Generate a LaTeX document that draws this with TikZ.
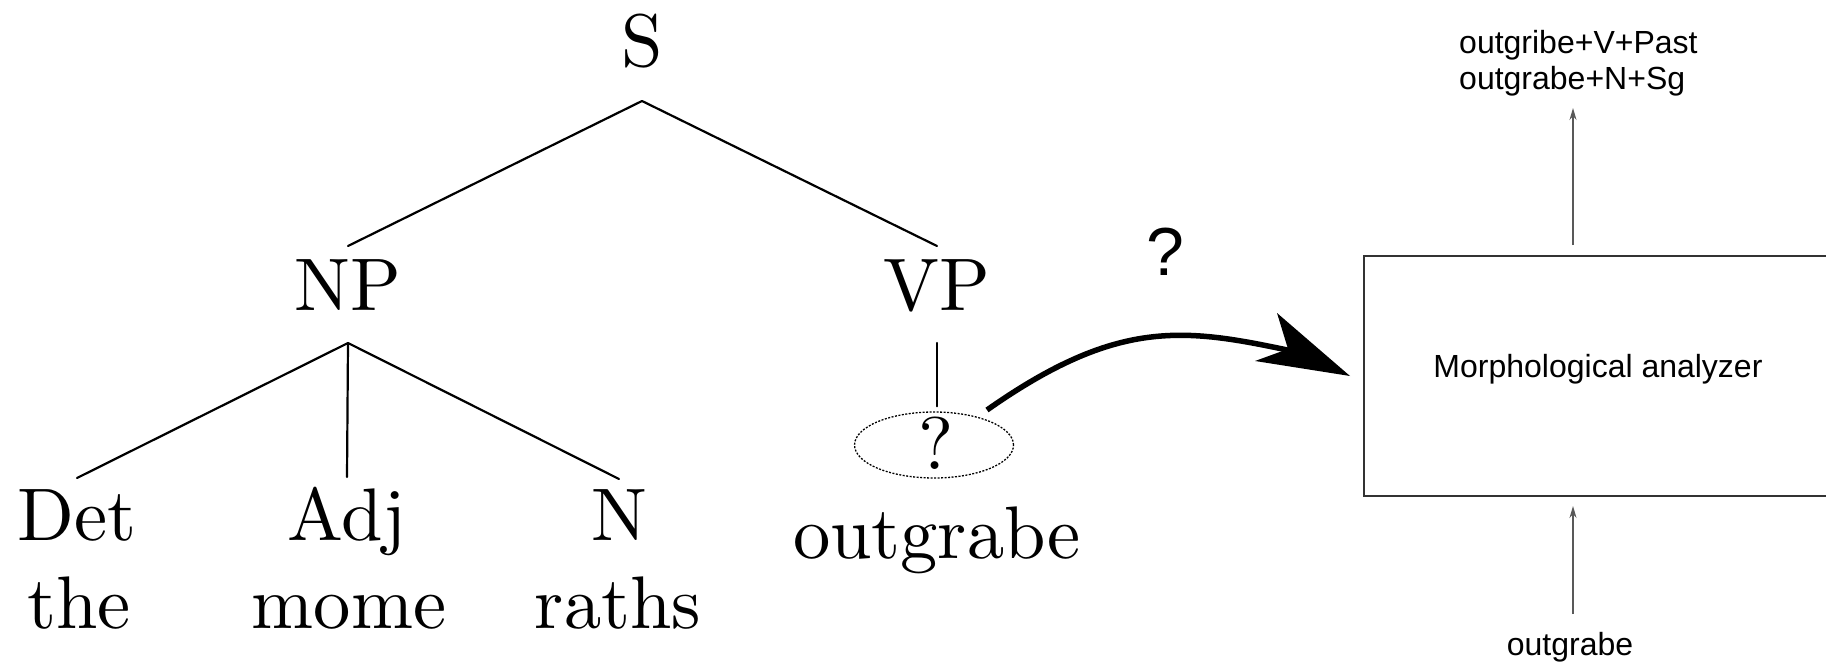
\documentclass[tikz,border=0pt]{standalone}
\usepackage{fontspec}
\newfontfamily\hsans{Liberation Sans}
\newfontfamily\lmten{lmroman10-regular.otf}
\usetikzlibrary{arrows.meta,calc,shapes.geometric}
\begin{document}
\begin{tikzpicture}[x=1pt,y=-1pt,
  trfont/.style={font=\lmten\fontsize{74.5}{80}\selectfont},
  tr/.style={trfont, inner sep=0pt, anchor=base},
  treeline/.style={line width=2.2pt, line cap=round},
  ms/.style={font=\hsans\fontsize{32}{36}\selectfont, inner sep=0pt},
  thinarr/.style={line width=1.3pt, draw=black!65, -{Stealth[length=12pt,width=7pt]}},
  shaft/.style={line width=5.5pt}
]
\useasboundingbox (0,0) rectangle (1826,666);
\clip (0,0) rectangle (1826,666);

% tree labels
\node[tr] (S)  at (642,67)  {S};
\node[tr] (NP) at (348,310) {NP};
\node[tr] (VP) at (937,310) {VP};
\node[tr] (Det) at (77,540)  {Det};
\node[tr] (Adj) at (347,540) {Adj};
\node[tr] (N)   at (619,540) {N};
\node[tr] (the)  at (79,628)  {the};
\node[tr] (mome) at (349,628) {mome};
\node[tr] (raths) at (618,628) {raths};
\node[tr] (og) at (937,558) {outgrabe};

% dotted ellipse with question mark
\node[draw, ellipse, dash pattern=on 2pt off 1.5pt, line width=1.3pt,
      minimum width=159pt, minimum height=66pt, inner sep=0pt] (q) at (934,445) {};
\node[trfont, inner sep=0pt] (qm) at (936,443) {?};

% tree branches
\draw[treeline] ([yshift=-34pt]S.base) -- ([yshift=64pt]NP.base);
\draw[treeline] ([yshift=-34pt]S.base) -- ([yshift=64pt]VP.base);
\draw[treeline] ([yshift=-33pt]NP.base) -- ([yshift=62pt]Det.base);
\draw[treeline] ([yshift=-33pt]NP.base) -- ([yshift=63pt]Adj.base);
\draw[treeline] ([yshift=-33pt]NP.base) -- ([yshift=61pt]N.base);
\draw[treeline] ([yshift=-33pt]VP.base) -- ([yshift=5pt]q.north -| VP.base);

% morphological analyzer box
\node[draw=black!80, line width=2pt, minimum width=540pt, minimum height=240pt,
      anchor=north west, inner sep=0pt] (MA) at (1363,255) {};
\node[ms, anchor=base] (mal) at (1598,377) {Morphological analyzer};
\node[ms, anchor=base west] (o1) at (1459,54) {outgribe+V+Past};
\node[ms, anchor=base west] (o2) at (1459,90) {outgrabe+N+Sg};
\node[ms, anchor=base] (inp) at (1570,655) {outgrabe};
\node[font=\hsans\fontsize{68}{70}\selectfont, inner sep=0pt, anchor=base] (qlab) at (1165,275) {?};

\draw[thinarr] ($(MA.north west)+(210,-10)$) -- ($(o2.base west)+(114,18)$);
\draw[thinarr] ($(inp.base)+(3,-41)$) -- ($(MA.south west)+(210,9)$);

% big curved arrow from the ellipse to the analyzer
\coordinate (tip) at ($(MA.west)+(-13,0)$);
\coordinate (notch) at ($(tip)+(-62,-27)$);
\coordinate (shaftend) at ($(tip)+(-58,-25)$);
\draw[shaft] ($(q.center)+(53,-35)$) .. controls +(131,-92) and +(-108,-23) .. (shaftend);
\fill (tip) -- ($(tip)+(-73,-63)$) -- (notch) -- ($(tip)+(-95,-15)$) -- cycle;
\end{tikzpicture}
\end{document}
